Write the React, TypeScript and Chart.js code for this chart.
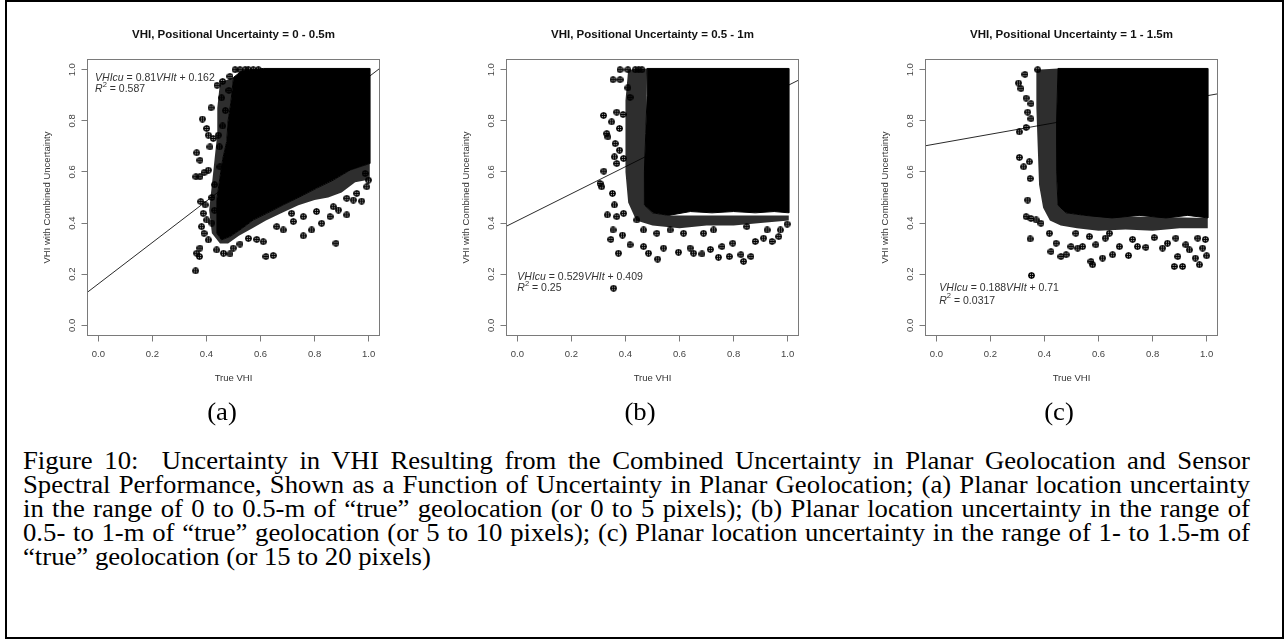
import React, { useEffect, useRef } from 'react';
import { Chart, registerables } from 'chart.js';

Chart.register(...registerables);

// ---------- data ----------
const xTickValues = [0, 0.2, 0.4, 0.6, 0.8, 1.0];
const yTickValues = [0, 0.2, 0.4, 0.6, 0.8, 1.0];
const axisMin = -0.04;
const axisMax = 1.04;

const panelTitles = [
  'VHI, Positional Uncertainty = 0 - 0.5m',
  'VHI, Positional Uncertainty = 0.5 - 1m',
  'VHI, Positional Uncertainty = 1 - 1.5m',
];
const panelLetters = ['(a)', '(b)', '(c)'];
const xAxisTitle = 'True VHI';
const yAxisTitle = 'VHI with Combined Uncertainty';

const slopes = [0.81, 0.529, 0.188];
const intercepts = [0.162, 0.409, 0.71];
const slopeLabels = ['0.81', '0.529', '0.188'];
const interceptLabels = ['0.162', '0.409', '0.71'];
const rSquaredLabels = ['0.587', '0.25', '0.0317'];
const annotationX = [-0.012, 0.0, 0.011];
const annotationY = [
  [0.969, 0.923],
  [0.189, 0.146],
  [0.146, 0.096],
];

// dense (solid) core outlines of the point clouds
const denseA = [
  [0.5, 0.97], [0.53, 0.995], [0.61, 1.005], [1.004, 1.005], [1.004, 0.633], [0.931, 0.607],
  [0.869, 0.568], [0.807, 0.536], [0.746, 0.503], [0.684, 0.471], [0.623, 0.438], [0.573, 0.412],
  [0.524, 0.373], [0.487, 0.347], [0.456, 0.334], [0.438, 0.36], [0.438, 0.49], [0.45, 0.58],
  [0.46, 0.65], [0.475, 0.72], [0.48, 0.8], [0.49, 0.87], [0.5, 0.97],
];
const fringeA = [
  [0.45, 0.95], [0.5, 0.97], [0.49, 0.87], [0.48, 0.8], [0.475, 0.72], [0.46, 0.65], [0.45, 0.58],
  [0.438, 0.49], [0.438, 0.36], [0.456, 0.334], [0.487, 0.347], [0.524, 0.373], [0.573, 0.412],
  [0.623, 0.438], [0.684, 0.471], [0.746, 0.503], [0.807, 0.536], [0.869, 0.568], [0.931, 0.607],
  [1.004, 0.633], [1.004, 0.57], [0.95, 0.56], [0.9, 0.52], [0.85, 0.5], [0.8, 0.49], [0.74, 0.47],
  [0.68, 0.44], [0.62, 0.41], [0.57, 0.38], [0.52, 0.35], [0.48, 0.32], [0.45, 0.32], [0.42, 0.36],
  [0.41, 0.45], [0.42, 0.55], [0.43, 0.65], [0.44, 0.75], [0.44, 0.85], [0.45, 0.95],
];
const denseB = [
  [0.48, 1.005], [1.004, 1.005], [1.004, 0.44], [0.95, 0.445], [0.88, 0.44], [0.8, 0.445],
  [0.72, 0.44], [0.64, 0.445], [0.56, 0.43], [0.5, 0.44], [0.47, 0.47], [0.47, 0.6],
  [0.475, 0.75], [0.48, 0.9], [0.48, 1.005],
];
const fringeB = [
  [0.41, 1.0], [0.48, 1.005], [0.47, 0.47], [0.5, 0.44], [0.56, 0.43], [1.004, 0.43], [1.004, 0.41],
  [0.9, 0.4], [0.8, 0.39], [0.7, 0.39], [0.6, 0.38], [0.5, 0.39], [0.44, 0.41], [0.41, 0.48],
  [0.4, 0.6], [0.4, 0.75], [0.4, 0.88], [0.41, 1.0],
];
const denseC = [
  [0.45, 1.005], [1.004, 1.005], [1.004, 0.42], [0.93, 0.43], [0.85, 0.42], [0.75, 0.43],
  [0.65, 0.42], [0.55, 0.43], [0.48, 0.44], [0.45, 0.47], [0.445, 0.6], [0.445, 0.8], [0.45, 1.005],
];
const fringeC = [
  [0.37, 1.0], [0.45, 1.005], [0.445, 0.6], [0.45, 0.47], [0.48, 0.44], [0.55, 0.43], [1.004, 0.42],
  [1.004, 0.38], [0.9, 0.38], [0.8, 0.37], [0.7, 0.375], [0.6, 0.37], [0.52, 0.38], [0.46, 0.39],
  [0.42, 0.41], [0.395, 0.46], [0.38, 0.55], [0.375, 0.7], [0.37, 0.85], [0.37, 1.0],
];

// individually visible points around the clouds
const outliersA = [
  [0.506, 1.0], [0.524, 1.0], [0.543, 1.0], [0.555, 1.0], [0.573, 1.0], [0.592, 1.0],
  [0.439, 0.939], [0.46, 0.954], [0.487, 0.974], [0.514, 0.958], [0.543, 0.922], [0.52, 0.917],
  [0.483, 0.919], [0.456, 0.89], [0.417, 0.851], [0.385, 0.807], [0.401, 0.77], [0.407, 0.744],
  [0.444, 0.744], [0.425, 0.731], [0.413, 0.698], [0.448, 0.698], [0.364, 0.675], [0.376, 0.646],
  [0.361, 0.581], [0.376, 0.581], [0.391, 0.597], [0.407, 0.607], [0.379, 0.484], [0.395, 0.471],
  [0.388, 0.438], [0.401, 0.412], [0.382, 0.386], [0.391, 0.36], [0.407, 0.334], [0.376, 0.302],
  [0.364, 0.282], [0.374, 0.269], [0.36, 0.213], [0.438, 0.295], [0.463, 0.282], [0.487, 0.279],
  [0.499, 0.302], [0.524, 0.318], [0.555, 0.34], [0.586, 0.336], [0.61, 0.327], [0.62, 0.269],
  [0.647, 0.273], [0.684, 0.373], [0.721, 0.406], [0.758, 0.425], [0.758, 0.35], [0.789, 0.373],
  [0.826, 0.399], [0.857, 0.425], [0.879, 0.321], [0.888, 0.451], [0.919, 0.432], [0.943, 0.49],
  [0.974, 0.486], [0.993, 0.542], [0.999, 0.568], [0.987, 0.594], [0.956, 0.516], [0.919, 0.497],
  [0.869, 0.464], [0.807, 0.445], [0.715, 0.438], [0.66, 0.386], [0.47, 0.84], [0.46, 0.78],
  [0.45, 0.62], [0.43, 0.55], [0.42, 0.5], [0.43, 0.45], [0.42, 0.4],
];
const outliersB = [
  [0.38, 1.0], [0.409, 1.0], [0.436, 1.0], [0.449, 1.0], [0.461, 1.0], [0.354, 0.961],
  [0.38, 0.961], [0.409, 0.929], [0.417, 0.892], [0.368, 0.834], [0.391, 0.825], [0.319, 0.821],
  [0.349, 0.796], [0.378, 0.77], [0.331, 0.75], [0.335, 0.737], [0.362, 0.711], [0.378, 0.685],
  [0.359, 0.659], [0.393, 0.653], [0.368, 0.633], [0.32, 0.603], [0.306, 0.555], [0.312, 0.542],
  [0.352, 0.516], [0.359, 0.471], [0.333, 0.432], [0.368, 0.425], [0.393, 0.438], [0.354, 0.373],
  [0.346, 0.336], [0.389, 0.353], [0.417, 0.315], [0.374, 0.282], [0.467, 0.308], [0.485, 0.282],
  [0.519, 0.259], [0.541, 0.302], [0.596, 0.286], [0.639, 0.302], [0.652, 0.282], [0.683, 0.279],
  [0.714, 0.297], [0.744, 0.266], [0.757, 0.308], [0.784, 0.269], [0.797, 0.321], [0.827, 0.276],
  [0.837, 0.25], [0.864, 0.269], [0.88, 0.328], [0.911, 0.341], [0.942, 0.328], [0.967, 0.347],
  [0.998, 0.396], [0.973, 0.373], [0.726, 0.373], [0.689, 0.36], [0.615, 0.36], [0.565, 0.373],
  [0.516, 0.36], [0.467, 0.373], [0.442, 0.412], [0.849, 0.386], [0.924, 0.373], [0.356, 0.145],
];
const outliersC = [
  [0.304, 0.948], [0.313, 0.926], [0.328, 0.982], [0.375, 1.0], [0.332, 0.889], [0.35, 0.867],
  [0.338, 0.834], [0.307, 0.757], [0.332, 0.774], [0.35, 0.808], [0.307, 0.657], [0.323, 0.62],
  [0.344, 0.64], [0.347, 0.574], [0.338, 0.49], [0.332, 0.425], [0.35, 0.418], [0.347, 0.338],
  [0.352, 0.195], [0.369, 0.412], [0.387, 0.399], [0.418, 0.36], [0.424, 0.288], [0.443, 0.321],
  [0.461, 0.269], [0.48, 0.276], [0.498, 0.308], [0.523, 0.302], [0.541, 0.308], [0.572, 0.25],
  [0.578, 0.237], [0.59, 0.315], [0.615, 0.263], [0.625, 0.341], [0.652, 0.276], [0.677, 0.308],
  [0.711, 0.273], [0.726, 0.336], [0.744, 0.308], [0.775, 0.305], [0.806, 0.343], [0.837, 0.302],
  [0.855, 0.321], [0.88, 0.23], [0.893, 0.269], [0.911, 0.23], [0.936, 0.295], [0.958, 0.263],
  [0.973, 0.237], [0.995, 0.336], [1.0, 0.272], [0.967, 0.341], [0.923, 0.315], [0.886, 0.341],
  [0.566, 0.347], [0.516, 0.36], [0.64, 0.36], [0.985, 0.302],
];

const denseSets = [denseA, denseB, denseC];
const fringeSets = [fringeA, fringeB, fringeC];
const outlierSets = [outliersA, outliersB, outliersC];

const captionLines = [
  'Figure 10:\u00a0 Uncertainty in VHI Resulting from the Combined Uncertainty in Planar Geolocation and Sensor',
  'Spectral Performance, Shown as a Function of Uncertainty in Planar Geolocation; (a) Planar location uncertainty',
  'in the range of 0 to 0.5-m of \u201ctrue\u201d geolocation (or 0 to 5 pixels); (b) Planar location uncertainty in the range of',
  '0.5- to 1-m of \u201ctrue\u201d geolocation (or 5 to 10 pixels); (c) Planar location uncertainty in the range of 1- to 1.5-m of',
  '\u201ctrue\u201d geolocation (or 15 to 20 pixels)',
];

// ---------- layout ----------
const SANS = '"Liberation Sans", Arial, Helvetica, sans-serif';
const SERIF = '"Liberation Serif", "Times New Roman", serif';
const canvasLefts = [30, 449, 868];
const CANVAS_W = 407;
const CANVAS_H = 400;
const letterCenters = [221.7, 640, 1059];
const TEXT_STRETCH = 1.09;
const CAPTION_WIDTH = 1227;

const toXY = (arr: number[][]) => arr.map(([x, y]) => ({ x, y }));

function makeMarker(): HTMLCanvasElement {
  const c = document.createElement('canvas');
  c.width = 7;
  c.height = 7;
  const g = c.getContext('2d')!;
  g.strokeStyle = '#000';
  g.lineWidth = 1.35;
  g.beginPath();
  g.arc(3.5, 3.5, 2.6, 0, Math.PI * 2);
  g.stroke();
  g.beginPath();
  g.moveTo(3.5, 0.4);
  g.lineTo(3.5, 6.6);
  g.moveTo(0.4, 3.5);
  g.lineTo(6.6, 3.5);
  g.stroke();
  return c;
}

type Part = { text: string; italic?: boolean; sup?: boolean };

function drawRich(ctx: CanvasRenderingContext2D, parts: Part[], x: number, y: number, size: number) {
  let cx = x;
  for (const p of parts) {
    const s = p.sup ? size * 0.72 : size;
    ctx.font = `${p.italic ? 'italic ' : ''}${s}px ${SANS}`;
    ctx.fillText(p.text, cx, p.sup ? y - size * 0.42 : y);
    cx += ctx.measureText(p.text).width;
  }
}

function Panel({ index }: { index: number }) {
  const ref = useRef<HTMLCanvasElement | null>(null);
  useEffect(() => {
    if (!ref.current) return;
    const marker = makeMarker();
    const fit = [
      { x: axisMin, y: intercepts[index] + slopes[index] * axisMin },
      { x: axisMax, y: intercepts[index] + slopes[index] * axisMax },
    ];
    const framePlugin = {
      id: 'frameAndAnnot' + index,
      afterDraw(chart: any) {
        const { ctx, chartArea: a } = chart;
        ctx.save();
        ctx.strokeStyle = '#7a7a7a';
        ctx.lineWidth = 1;
        ctx.strokeRect(a.left, a.top, a.right - a.left, a.bottom - a.top);
        const xs = chart.scales.x;
        const ys = chart.scales.y;
        const px = xs.getPixelForValue(annotationX[index]);
        const py1 = ys.getPixelForValue(annotationY[index][0]);
        const py2 = ys.getPixelForValue(annotationY[index][1]);
        ctx.fillStyle = '#333';
        ctx.textAlign = 'left';
        ctx.textBaseline = 'middle';
        drawRich(
          ctx,
          [
            { text: 'VHIcu', italic: true },
            { text: ' = ' + slopeLabels[index] },
            { text: 'VHIt', italic: true },
            { text: ' + ' + interceptLabels[index] },
          ],
          px,
          py1,
          10.5,
        );
        drawRich(
          ctx,
          [{ text: 'R', italic: true }, { text: '2', sup: true }, { text: ' = ' + rSquaredLabels[index] }],
          px,
          py2,
          10.5,
        );
        ctx.restore();
      },
    };
    const tickFont = { family: SANS, size: 9.5 };
    const chart = new Chart(ref.current, {
      type: 'scatter',
      data: {
        datasets: [
          {
            label: 'fit',
            data: fit,
            showLine: true,
            borderColor: '#2a2a2a',
            borderWidth: 1,
            pointRadius: 0,
            fill: false,
            order: 10,
          },
          {
            label: 'points',
            data: toXY(outlierSets[index]),
            pointStyle: marker as any,
            pointRadius: 3.5,
            order: 1,
          },
          {
            label: 'dense',
            data: toXY(denseSets[index]),
            showLine: true,
            fill: 'shape',
            backgroundColor: '#000',
            borderColor: '#000',
            borderWidth: 1,
            pointRadius: 0,
            tension: 0,
            order: 2,
          },
          {
            label: 'fringe',
            data: toXY(fringeSets[index]),
            showLine: true,
            fill: 'shape',
            backgroundColor: 'rgba(0,0,0,0.82)',
            borderColor: 'rgba(0,0,0,0)',
            borderWidth: 0,
            pointRadius: 0,
            tension: 0,
            order: 3,
          },
        ] as any,
      },
      options: {
        responsive: false,
        animation: false,
        devicePixelRatio: 1,
        layout: { padding: 0 },
        events: [],
        plugins: {
          legend: { display: false },
          tooltip: { enabled: false },
          title: {
            display: true,
            text: panelTitles[index],
            color: '#111',
            font: { family: SANS, size: 11.5, weight: 'bold' },
            padding: { top: 28.1, bottom: 17.6 },
          },
        },
        scales: {
          x: {
            type: 'linear',
            position: 'bottom',
            min: axisMin,
            max: axisMax,
            afterBuildTicks: (s: any) => {
              s.ticks = xTickValues.map((v) => ({ value: v }));
            },
            afterFit: (s: any) => {
              s.height = 64.5;
            },
            ticks: {
              callback: (v: any) => Number(v).toFixed(1),
              color: '#444',
              font: tickFont,
              padding: 6.8,
              minRotation: 0,
              maxRotation: 0,
              autoSkip: false,
            },
            grid: { display: true, drawOnChartArea: false, drawTicks: true, tickLength: 6, color: '#7a7a7a', lineWidth: 1 },
            border: { display: false },
            title: { display: true, text: xAxisTitle, color: '#333', font: tickFont, padding: { top: 0, bottom: 16.3 } },
          },
          y: {
            type: 'linear',
            position: 'left',
            min: axisMin,
            max: axisMax,
            afterBuildTicks: (s: any) => {
              s.ticks = yTickValues.map((v) => ({ value: v }));
            },
            afterFit: (s: any) => {
              s.width = 57.5;
            },
            ticks: {
              callback: (v: any) => Number(v).toFixed(1),
              color: '#444',
              font: tickFont,
              padding: 2.4,
              minRotation: 90,
              maxRotation: 90,
              crossAlign: 'center',
              autoSkip: false,
            },
            grid: { display: true, drawOnChartArea: false, drawTicks: true, tickLength: 6, color: '#7a7a7a', lineWidth: 1 },
            border: { display: false },
            title: { display: true, text: yAxisTitle, color: '#333', font: tickFont, padding: { top: 11.6, bottom: 0 } },
          },
          yr: {
            type: 'linear',
            position: 'right',
            display: true,
            afterFit: (s: any) => {
              s.width = 57.5;
            },
            ticks: { display: false },
            grid: { display: false },
            border: { display: false },
          },
        },
      } as any,
      plugins: [framePlugin as any],
    });
    return () => chart.destroy();
  }, [index]);
  return (
    <canvas
      ref={ref}
      width={CANVAS_W}
      height={CANVAS_H}
      style={{ position: 'absolute', left: canvasLefts[index], top: 0, width: CANVAS_W, height: CANVAS_H }}
    />
  );
}

export default function App() {
  return (
    <div
      style={{
        position: 'fixed',
        left: 0,
        top: 0,
        width: 1286,
        height: 639,
        background: '#fff',
        overflow: 'hidden',
      }}
    >
      <div
        style={{
          position: 'absolute',
          left: 5,
          top: 0,
          width: 1279,
          height: 639,
          border: '2px solid #000',
          boxSizing: 'border-box',
        }}
      />
      {[0, 1, 2].map((i) => (
        <Panel key={i} index={i} />
      ))}
      {panelLetters.map((t, i) => (
        <div
          key={t}
          style={{
            position: 'absolute',
            left: letterCenters[i],
            top: 398,
            fontFamily: SERIF,
            fontSize: 24.5,
            lineHeight: '27px',
            whiteSpace: 'nowrap',
            color: '#000',
            transform: `translateX(-50%) scaleX(${TEXT_STRETCH})`,
          }}
        >
          {t}
        </div>
      ))}
      <div
        style={{
          position: 'absolute',
          left: 23,
          top: 449,
          width: CAPTION_WIDTH / TEXT_STRETCH,
          transform: `scaleX(${TEXT_STRETCH})`,
          transformOrigin: '0 0',
          fontFamily: SERIF,
          fontSize: 24.5,
          lineHeight: '24px',
          color: '#000',
        }}
      >
        {captionLines.map((line, i) => (
          <div
            key={i}
            style={{
              whiteSpace: 'nowrap',
              textAlign: i < 4 ? 'justify' : 'left',
              textAlignLast: i < 4 ? 'justify' : 'left',
            }}
          >
            {line}
          </div>
        ))}
      </div>
    </div>
  );
}
